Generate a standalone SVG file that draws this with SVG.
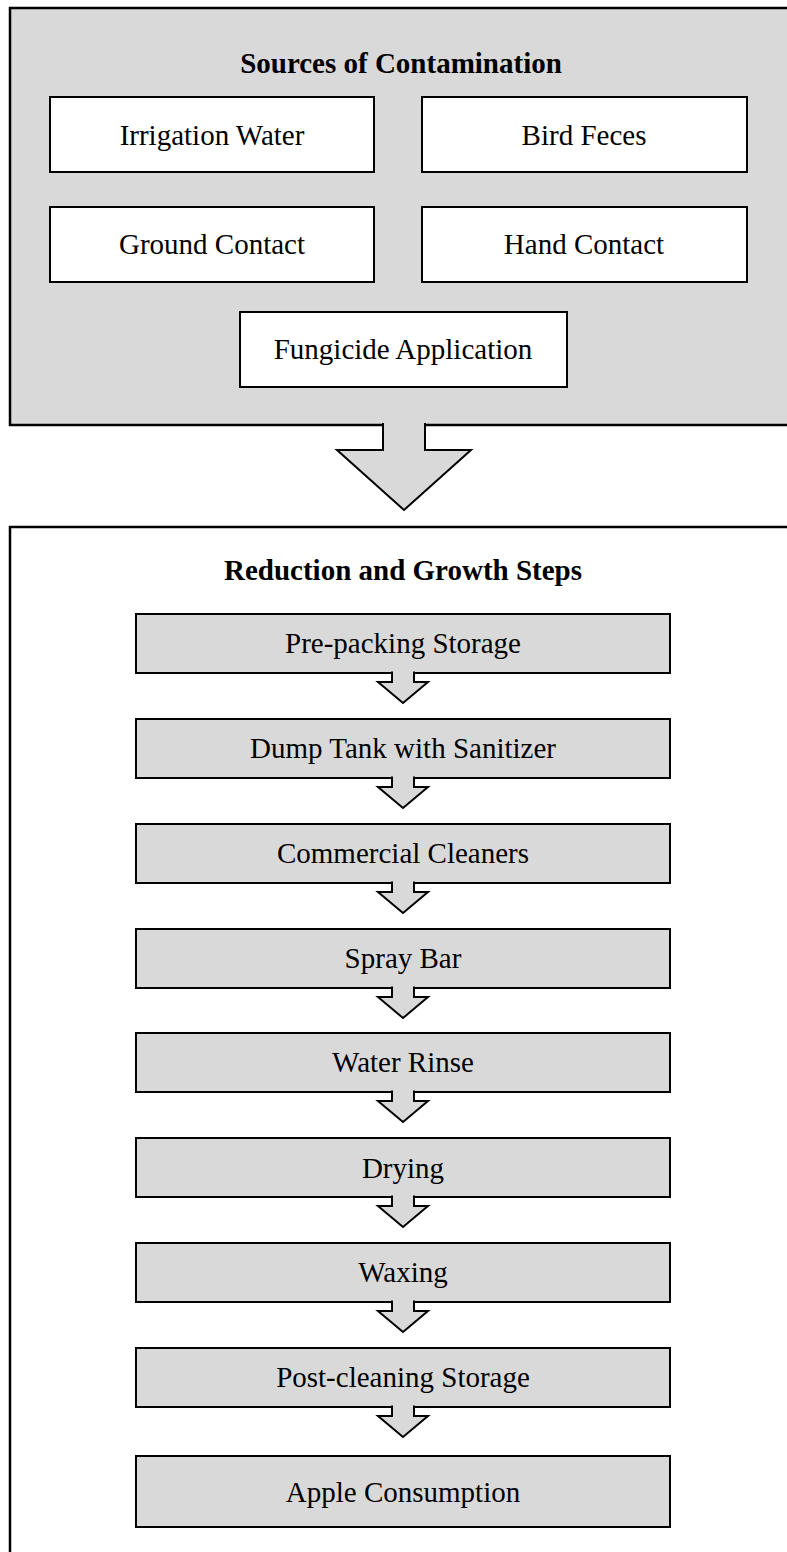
<svg xmlns="http://www.w3.org/2000/svg" width="787" height="1552" viewBox="0 0 787 1552">
  <style>
    .panel { stroke: #000; stroke-width: 2.5; }
    .box { stroke: #000; stroke-width: 2; }
    .white { fill: #fff; }
    .grey { fill: #d9d9d9; }
    .arrow { fill: #d9d9d9; stroke: #000; stroke-width: 2; stroke-linejoin: miter; }
    text { font-family: "Liberation Serif", "Times New Roman", serif; text-anchor: middle; fill: #000; }
    .title { font-size: 29px; font-weight: bold; }
    .label { font-size: 29px; }
  </style>

  <!-- Upper panel: sources of contamination -->
  <g id="sources-panel">
    <rect class="panel grey" x="10" y="8" width="800" height="417"/>
    <text class="title" x="401" y="73">Sources of Contamination</text>
  </g>
  <g id="irrigation-water">
    <rect class="box white" x="50" y="97" width="324" height="75"/>
    <text class="label" x="212" y="145">Irrigation Water</text>
  </g>
  <g id="bird-feces">
    <rect class="box white" x="422" y="97" width="325" height="75"/>
    <text class="label" x="584" y="145">Bird Feces</text>
  </g>
  <g id="ground-contact">
    <rect class="box white" x="50" y="207" width="324" height="75"/>
    <text class="label" x="212" y="254">Ground Contact</text>
  </g>
  <g id="hand-contact">
    <rect class="box white" x="422" y="207" width="325" height="75"/>
    <text class="label" x="584" y="254">Hand Contact</text>
  </g>
  <g id="fungicide-application">
    <rect class="box white" x="240" y="312" width="327" height="75"/>
    <text class="label" x="403" y="359">Fungicide Application</text>
  </g>

  <!-- Lower panel: reduction and growth steps -->
  <g id="steps-panel">
    <rect class="panel white" x="10" y="527" width="800" height="1100"/>
    <text class="title" x="403" y="580">Reduction and Growth Steps</text>
  </g>
  <g id="pre-packing-storage">
    <rect class="box grey" x="136" y="614" width="534" height="59"/>
    <text class="label" x="403" y="653">Pre-packing Storage</text>
  </g>
  <g id="dump-tank">
    <rect class="box grey" x="136" y="719" width="534" height="59"/>
    <text class="label" x="403" y="758">Dump Tank with Sanitizer</text>
  </g>
  <g id="commercial-cleaners">
    <rect class="box grey" x="136" y="824" width="534" height="59"/>
    <text class="label" x="403" y="863">Commercial Cleaners</text>
  </g>
  <g id="spray-bar">
    <rect class="box grey" x="136" y="929" width="534" height="59"/>
    <text class="label" x="403" y="968">Spray Bar</text>
  </g>
  <g id="water-rinse">
    <rect class="box grey" x="136" y="1033" width="534" height="59"/>
    <text class="label" x="403" y="1072">Water Rinse</text>
  </g>
  <g id="drying">
    <rect class="box grey" x="136" y="1138" width="534" height="59"/>
    <text class="label" x="403" y="1178">Drying</text>
  </g>
  <g id="waxing">
    <rect class="box grey" x="136" y="1243" width="534" height="59"/>
    <text class="label" x="403" y="1282">Waxing</text>
  </g>
  <g id="post-cleaning-storage">
    <rect class="box grey" x="136" y="1348" width="534" height="59"/>
    <text class="label" x="403" y="1387">Post-cleaning Storage</text>
  </g>
  <g id="apple-consumption">
    <rect class="box grey" x="136" y="1456" width="534" height="71"/>
    <text class="label" x="403" y="1502">Apple Consumption</text>
  </g>

  <!-- Block arrows; each path starts just above the box edge so its fill hides the border -->
  <g id="connectors">
    <path class="arrow" d="M383,423 V450 H337 L404,510 L471,450 H425 V423"/>
    <path class="arrow" d="M392,671.5 V682 H378 L403,703 L428,682 H414 V671.5"/>
    <path class="arrow" d="M392,776.5 V787 H378 L403,808 L428,787 H414 V776.5"/>
    <path class="arrow" d="M392,881.5 V892 H378 L403,913 L428,892 H414 V881.5"/>
    <path class="arrow" d="M392,986.5 V997 H378 L403,1018 L428,997 H414 V986.5"/>
    <path class="arrow" d="M392,1090.5 V1101 H378 L403,1122 L428,1101 H414 V1090.5"/>
    <path class="arrow" d="M392,1195.5 V1206 H378 L403,1227 L428,1206 H414 V1195.5"/>
    <path class="arrow" d="M392,1300.5 V1311 H378 L403,1332 L428,1311 H414 V1300.5"/>
    <path class="arrow" d="M392,1405.5 V1416 H378 L403,1437 L428,1416 H414 V1405.5"/>
  </g>
</svg>
